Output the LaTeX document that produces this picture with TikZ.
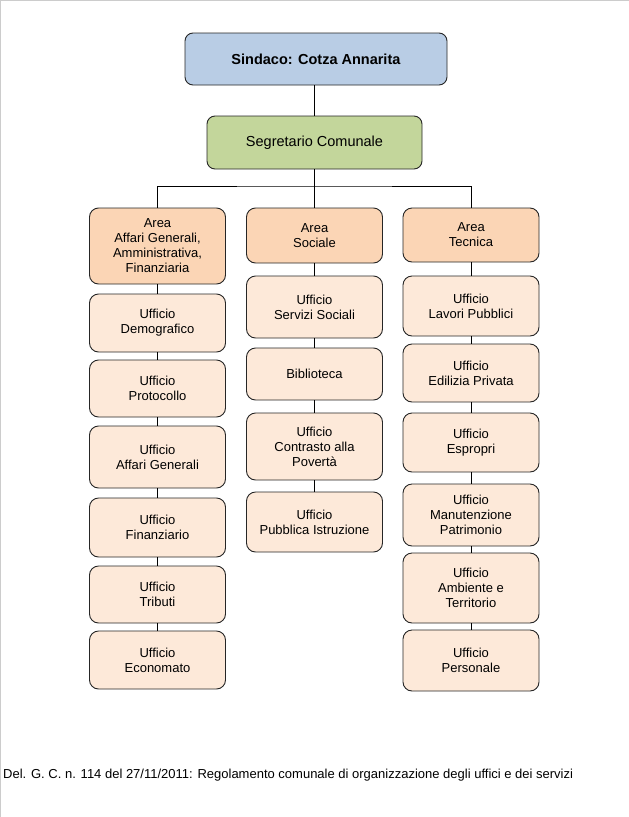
\documentclass[tikz,border=0pt]{standalone}
\usepackage{fontspec}
\setmainfont{Liberation Sans}
\usepackage{xcolor}
\usetikzlibrary{positioning}
\definecolor{sindacoblue}{HTML}{B9CDE5}
\definecolor{segrgreen}{HTML}{C3D69B}
\definecolor{areaorange}{HTML}{FBD5B5}
\definecolor{uffpeach}{HTML}{FDE9D9}
\tikzset{
  TB/.style={draw=black!85, rectangle, rounded corners=8pt, align=center,
             inner sep=0pt, line width=0.9pt,
             font=\fontsize{14.5}{16}\selectfont},
  AB/.style={draw=black!85, rectangle, rounded corners=9pt, align=center,
             fill=areaorange, inner sep=0pt, line width=0.9pt,
             minimum width=136pt, font=\fontsize{13}{15}\selectfont},
  UB/.style={AB, fill=uffpeach},
  LN/.style={line width=0.8pt, black}
}

\begin{document}
\begin{tikzpicture}[x=1pt, y=-1pt]
\useasboundingbox (0,0) rectangle (629,817);
\draw[black!20, line width=1pt] (0.5,817) -- (0.5,0.5) -- (629,0.5);

% Vertici
\node[TB, fill=sindacoblue, minimum width=262pt, minimum height=52pt]
  (sind) at (316,59) {\textbf{Sindaco: Cotza Annarita}};
\node[TB, fill=segrgreen, minimum width=215pt, minimum height=53pt]
  (segr) at (314.5,142.5) {Segretario Comunale};

% Aree
\node[AB, minimum height=76pt] (aAGAF) at (157.5,246)
  {Area\\Affari Generali,\\Amministrativa,\\Finanziaria};
\node[AB, minimum height=55pt] (aSoc) at (314.5,235.5) {Area\\Sociale};
\node[AB, minimum height=54pt] (aTec) at (471,235) {Area\\Tecnica};

% Uffici -- area affari generali
\node[UB, minimum height=58pt] (uDemo)   at (157.5,323)   {Ufficio\\Demografico};
\node[UB, minimum height=57pt] (uProt)   at (157.5,388.5) {Ufficio\\Protocollo};
\node[UB, minimum height=62pt] (uAffGen) at (157.5,457)   {Ufficio\\Affari Generali};
\node[UB, minimum height=59pt] (uFin)    at (157.5,527.5) {Ufficio\\Finanziario};
\node[UB, minimum height=57pt] (uTrib)   at (157.5,594.5) {Ufficio\\Tributi};
\node[UB, minimum height=58pt] (uEcon)   at (157.5,660)   {Ufficio\\Economato};

% Uffici -- area sociale
\node[UB, minimum height=62pt] (uServ)  at (314.5,307)   {Ufficio\\Servizi Sociali};
\node[UB, minimum height=52pt] (uBibl)  at (314.5,374)   {Biblioteca};
\node[UB, minimum height=67pt] (uContr) at (314.5,446.5) {Ufficio\\Contrasto alla\\Povertà};
\node[UB, minimum height=60pt] (uPubb)  at (314.5,522)   {Ufficio\\Pubblica Istruzione};

% Uffici -- area tecnica
\node[UB, minimum height=60pt] (uLav)   at (471,306)   {Ufficio\\Lavori Pubblici};
\node[UB, minimum height=58pt] (uEdil)  at (471,373)   {Ufficio\\Edilizia Privata};
\node[UB, minimum height=59pt] (uEspr)  at (471,442.5) {Ufficio\\Espropri};
\node[UB, minimum height=62pt] (uManut) at (471,515)   {Ufficio\\Manutenzione\\Patrimonio};
\node[UB, minimum height=70pt] (uAmb)   at (471,588)   {Ufficio\\Ambiente e\\Territorio};
\node[UB, minimum height=61pt] (uPers)  at (471,660.5) {Ufficio\\Personale};

% Nota
\node[anchor=west, inner sep=0pt, font=\fontsize{13}{15}\selectfont]
  (nota) at (3,775)
  {Del. G. C. n. 114 del 27/11/2011: Regolamento comunale di organizzazione degli uffici e dei servizi};

% -- Collegamenti --
\coordinate (bus) at (314.5,186);
\draw[LN] (sind.south -| segr.north) -- (segr.north);
\draw[LN] (segr.south) -- (bus);
\draw[LN] (aAGAF.north) |- (bus) -| (aTec.north);
\draw[LN] (aSoc.north) -- (bus);

\draw[LN] (aAGAF) -- (uDemo) -- (uProt) -- (uAffGen) -- (uFin) -- (uTrib) -- (uEcon);
\draw[LN] (aSoc) -- (uServ) -- (uBibl) -- (uContr) -- (uPubb);
\draw[LN] (aTec) -- (uLav) -- (uEdil) -- (uEspr) -- (uManut) -- (uAmb) -- (uPers);

\end{tikzpicture}
\end{document}
